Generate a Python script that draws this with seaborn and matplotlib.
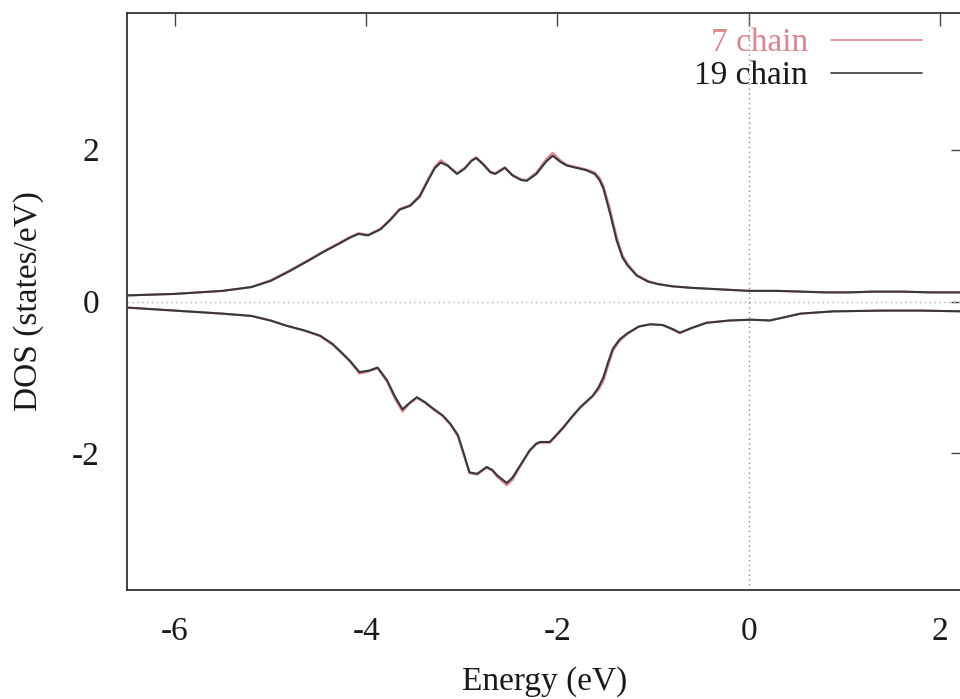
import numpy as np
import pandas as pd
import matplotlib
matplotlib.use("Agg")
import matplotlib.pyplot as plt
import seaborn as sns
from matplotlib.lines import Line2D

# Spin-resolved density of states (majority > 0, minority < 0)
energy_up_19 = [-6.5, -6.0, -5.5, -5.2, -5.0, -4.8, -4.6, -4.45, -4.3, -4.17, -4.08, -3.98,
                -3.85, -3.75, -3.65, -3.54, -3.44, -3.35, -3.28, -3.22, -3.15, -3.05, -2.97,
                -2.90, -2.85, -2.78, -2.70, -2.65, -2.55, -2.47, -2.38, -2.32, -2.22, -2.12,
                -2.05, -1.97, -1.90, -1.80, -1.70, -1.61, -1.56, -1.52, -1.45, -1.38, -1.32,
                -1.27, -1.17, -1.05, -0.95, -0.80, -0.60, -0.30, 0.0, 0.3, 0.55, 0.8, 1.05,
                1.3, 1.6, 1.9, 2.25]
dos_up_19 = [0.08, 0.10, 0.14, 0.19, 0.27, 0.40, 0.54, 0.65, 0.75, 0.84, 0.89, 0.87,
             0.95, 1.07, 1.21, 1.26, 1.38, 1.60, 1.76, 1.83, 1.79, 1.68, 1.75,
             1.85, 1.89, 1.81, 1.70, 1.68, 1.76, 1.66, 1.60, 1.59, 1.68, 1.84,
             1.92, 1.84, 1.79, 1.76, 1.73, 1.68, 1.60, 1.49, 1.16, 0.80, 0.58,
             0.48, 0.34, 0.26, 0.23, 0.20, 0.18, 0.16, 0.14, 0.14, 0.13, 0.12, 0.12,
             0.13, 0.13, 0.12, 0.12]

energy_dn_19 = [-6.5, -6.0, -5.5, -5.2, -5.0, -4.83, -4.65, -4.48, -4.35, -4.25, -4.17, -4.07,
                -3.97, -3.88, -3.78, -3.70, -3.62, -3.55, -3.47, -3.38, -3.30, -3.20, -3.12,
                -3.04, -2.98, -2.92, -2.84, -2.74, -2.68, -2.63, -2.53, -2.47, -2.42, -2.35,
                -2.29, -2.22, -2.18, -2.08, -2.02, -1.94, -1.85, -1.76, -1.63, -1.57, -1.52,
                -1.47, -1.42, -1.35, -1.27, -1.15, -1.03, -0.90, -0.80, -0.72, -0.60, -0.44,
                -0.20, 0.02, 0.22, 0.40, 0.54, 0.88, 1.40, 1.80, 2.25]
dos_dn_19 = [-0.08, -0.12, -0.16, -0.19, -0.25, -0.32, -0.38, -0.45, -0.56, -0.68, -0.78, -0.93,
             -0.91, -0.87, -1.04, -1.25, -1.42, -1.34, -1.26, -1.33, -1.41, -1.50, -1.61,
             -1.76, -2.00, -2.25, -2.27, -2.18, -2.22, -2.29, -2.39, -2.32, -2.22, -2.08,
             -1.96, -1.87, -1.85, -1.85, -1.77, -1.66, -1.52, -1.39, -1.24, -1.13, -1.00,
             -0.80, -0.62, -0.50, -0.42, -0.33, -0.30, -0.31, -0.36, -0.41, -0.35, -0.28,
             -0.25, -0.24, -0.25, -0.20, -0.16, -0.13, -0.12, -0.12, -0.13]

energy_up_7 = energy_up_19
dos_up_7 = [0.08, 0.10, 0.14, 0.19, 0.28, 0.41, 0.55, 0.66, 0.76, 0.85, 0.90, 0.88,
            0.96, 1.08, 1.22, 1.27, 1.40, 1.62, 1.78, 1.86, 1.80, 1.69, 1.76,
            1.86, 1.90, 1.82, 1.71, 1.69, 1.77, 1.67, 1.61, 1.60, 1.70, 1.87,
            1.96, 1.86, 1.80, 1.77, 1.74, 1.70, 1.63, 1.53, 1.22, 0.85, 0.61,
            0.50, 0.35, 0.27, 0.23, 0.20, 0.18, 0.16, 0.14, 0.14, 0.13, 0.12, 0.12,
            0.13, 0.13, 0.12, 0.12]

energy_dn_7 = energy_dn_19
dos_dn_7 = [-0.08, -0.12, -0.16, -0.19, -0.25, -0.32, -0.38, -0.46, -0.57, -0.69, -0.79, -0.95,
            -0.92, -0.88, -1.06, -1.28, -1.45, -1.35, -1.27, -1.34, -1.42, -1.51, -1.62,
            -1.78, -2.02, -2.26, -2.28, -2.19, -2.23, -2.31, -2.42, -2.35, -2.24, -2.09,
            -1.97, -1.88, -1.86, -1.86, -1.78, -1.67, -1.53, -1.40, -1.25, -1.16, -1.05,
            -0.85, -0.65, -0.52, -0.43, -0.33, -0.30, -0.31, -0.37, -0.42, -0.35, -0.28,
            -0.25, -0.24, -0.25, -0.20, -0.16, -0.13, -0.12, -0.12, -0.13]

series_labels = ["7 chain", "19 chain"]
series_colors = ["#d9878d", "#383838"]
x_ticks = [-6, -4, -2, 0, 2]
y_ticks = [-2, 0, 2]

frames = []
for label, parts in [("7 chain", [(energy_up_7, dos_up_7, "up"), (energy_dn_7, dos_dn_7, "dn")]),
                     ("19 chain", [(energy_up_19, dos_up_19, "up"), (energy_dn_19, dos_dn_19, "dn")])]:
    for e, d, spin in parts:
        frames.append(pd.DataFrame({"Energy": e, "DOS": d, "series": label, "spin": spin}))
df = pd.concat(frames, ignore_index=True)

sns.set_theme(style="white")
plt.rcParams["font.family"] = ["Liberation Serif", "DejaVu Serif"]

fig = plt.figure(figsize=(9.6, 6.99), dpi=100)
W, H = 960, 699
ax = fig.add_axes([127 / W, 1 - 590 / H, (963 - 127) / W, (590 - 13) / H])

# reference lines at the Fermi level and zero DOS
ax.axhline(0, color="#b0b0b0", lw=1.0, ls=(0, (1, 2.5)), zorder=1)
ax.axvline(0, color="#8a8a8a", lw=1.0, ls=(0, (1, 2.5)), zorder=1)

for label, color, lw in zip(series_labels, series_colors, [1.5, 1.5]):
    sub = df[df["series"] == label]
    sns.lineplot(data=sub, x="Energy", y="DOS", units="spin", estimator=None,
                 sort=False, color=color, lw=lw, ax=ax, legend=False, zorder=3)

ax.set_xlim(-6.5, 2.24)
ax.set_ylim(-3.8, 3.8)
ax.set_xticks(x_ticks)
ax.set_yticks(y_ticks)
ax.set_xticklabels([str(t) for t in x_ticks])
ax.set_yticklabels([str(t) for t in y_ticks])
ax.tick_params(direction="in", length=9, width=1.0, color="#444444",
               top=True, right=True, labelsize=24, labelcolor="#1a1a1a")
ax.tick_params(axis="x", pad=19)
ax.tick_params(axis="y", pad=20)
for s in ax.spines.values():
    s.set_color("#333333")
    s.set_linewidth(1.3)

ax.set_xlabel("Energy (eV)", fontsize=24, color="#1a1a1a", labelpad=14)
ax.set_ylabel("DOS (states/eV)", fontsize=24, color="#1a1a1a", labelpad=20)

# key: right-aligned text followed by a line sample
for i, (label, color) in enumerate(zip(series_labels, series_colors)):
    yc = 40 + 33 * i
    fig.text(808 / W, 1 - (yc + 3) / H, label, ha="right", va="center",
             fontsize=24, color=color if i == 0 else "#1a1a1a")
    fig.add_artist(Line2D([831 / W, 922 / W], [1 - yc / H, 1 - yc / H],
                          color=color, lw=1.2, transform=fig.transFigure))

fig.savefig("out.png", dpi=100)
